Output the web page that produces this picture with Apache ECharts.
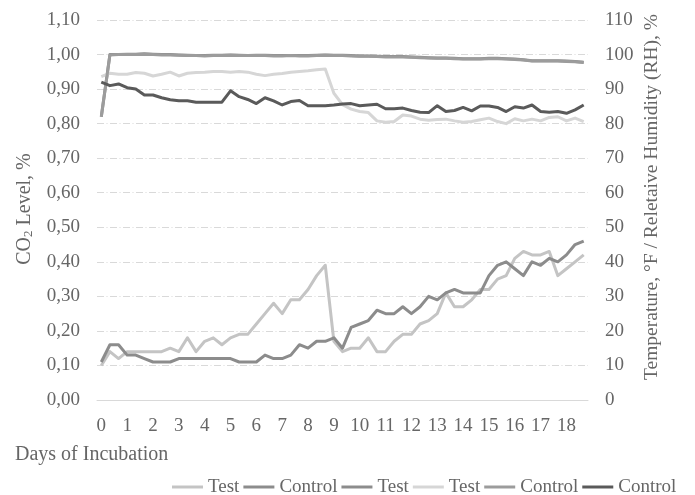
<!DOCTYPE html>
<html>
<head>
<meta charset="utf-8">
<script src="https://cdn.jsdelivr.net/npm/echarts@6/dist/echarts.min.js"></script>
<style>
html,body{margin:0;padding:0;background:#fff;}
#chart{width:695px;height:495px;}
</style>
</head>
<body>
<div id="chart"></div>
<script>
// Days of incubation (3 readings per day)
var days = ['0','1','2','3','4','5','6','7','8','9','10','11','12','13','14','15','16','17','18'];
var readingsPerDay = 3;

// CO2 level, % (left axis)
var co2Test = [0.10,0.14,0.12,0.14,0.14,0.14,0.14,0.14,0.15,0.14,0.18,0.14,0.17,0.18,0.16,0.18,0.19,0.19,0.22,0.25,0.28,0.25,0.29,0.29,0.32,0.36,0.39,0.17,
  0.14,0.15,0.15,0.18,0.14,0.14,0.17,0.19,0.19,0.22,0.23,0.25,0.31,0.27,0.27,0.29,0.32,0.32,0.35,0.36,0.41,0.43,0.42,0.42,0.43,0.36,0.38,0.40,0.42];
var co2Control = [0.11,0.16,0.16,0.13,0.13,0.12,0.11,0.11,0.11,0.12,0.12,0.12,0.12,0.12,0.12,0.12,0.11,0.11,0.11,0.13,0.12,0.12,0.13,0.16,0.15,0.17,0.17,0.18,
  0.15,0.21,0.22,0.23,0.26,0.25,0.25,0.27,0.25,0.27,0.30,0.29,0.31,0.32,0.31,0.31,0.31,0.36,0.39,0.40,0.38,0.36,0.40,0.39,0.41,0.40,0.42,0.45,0.46];

// Relative humidity, % (right axis)
var rhTest = [82,100.0,100.0,100.1,100.1,100.2,100.1,100.0,100.0,99.9,99.8,99.7,99.7,99.8,99.8,99.9,99.8,99.7,99.8,99.8,99.7,99.7,99.7,99.7,99.7,99.8,99.9,99.8,
  99.8,99.7,99.6,99.6,99.5,99.4,99.4,99.4,99.3,99.2,99.1,99.0,99.0,98.9,98.8,98.8,98.8,98.9,98.9,98.8,98.7,98.5,98.2,98.2,98.2,98.2,98.1,98.0,97.8];
var rhControl = [82,99.9,100.0,100.0,100.0,100.1,100.0,99.9,99.9,99.8,99.7,99.7,99.6,99.7,99.7,99.8,99.7,99.7,99.7,99.7,99.6,99.6,99.7,99.6,99.6,99.7,99.8,99.7,
  99.7,99.6,99.5,99.5,99.4,99.3,99.3,99.3,99.2,99.1,99.0,98.9,98.9,98.8,98.7,98.7,98.7,98.8,98.8,98.7,98.6,98.4,98.1,98.1,98.1,98.1,98.0,97.9,97.7];

// Temperature, °F (right axis)
var tempTest = [93.6,94.6,94.3,94.3,94.8,94.6,93.8,94.3,94.9,93.8,94.6,94.8,94.9,95.1,95.1,94.9,95.1,94.9,94.3,93.9,94.3,94.5,94.9,95.1,95.3,95.6,95.8,88.8,
  85.5,84.2,83.5,83.2,80.8,80.4,80.6,82.5,82.2,81.3,81.0,81.2,81.3,80.8,80.4,80.6,81.1,81.6,80.6,80.0,81.4,80.8,81.3,80.8,81.8,82.0,80.8,81.6,80.6];
var tempControl = [92.0,91.0,91.5,90.4,90.0,88.3,88.3,87.5,86.9,86.6,86.6,86.2,86.2,86.2,86.2,89.5,87.8,87.0,85.8,87.5,86.6,85.4,86.4,86.7,85.2,85.2,85.2,85.4,
  85.7,85.8,85.2,85.4,85.6,84.3,84.3,84.5,83.8,83.3,83.2,85.2,83.5,83.8,84.7,83.7,85.1,85.1,84.7,83.5,84.9,84.5,85.4,83.5,83.3,83.5,83.0,84.0,85.4];

var leftTicks = {min: 0, max: 1.1, interval: 0.1};
var rightTicks = {min: 0, max: 110, interval: 10};

// categories: one per reading, labelled with its day
var categories = [];
days.forEach(function (d) {
  for (var k = 0; k < readingsPerDay; k++) categories.push(d + '#' + k);
});

var FONT = '"Liberation Serif", "Times New Roman", serif';
var TXT = '#666666';

var chart = echarts.init(document.getElementById('chart'), null, {renderer: 'canvas'});

function mk(name, data, color, axis) {
  return {
    name: name, type: 'line', data: data, yAxisIndex: axis,
    symbol: 'none', smooth: false, color: color,
    lineStyle: {width: 3, color: color, join: 'round'},
    emphasis: {disabled: true}
  };
}

chart.setOption({
  animation: false,
  backgroundColor: '#ffffff',
  textStyle: {fontFamily: FONT},
  grid: {left: 97, right: 107, top: 20, bottom: 95, containLabel: false},
  legend: {
    left: 172, top: 477, padding: 0, itemGap: 4, itemWidth: 31, itemHeight: 3,
    icon: 'rect',
    textStyle: {fontFamily: FONT, fontSize: 19, color: TXT, lineHeight: 20},
    formatter: function (n) { return n.split(' ')[0]; },
    data: ['Test (CO2)', 'Control (CO2)', 'Test (RH)', 'Test (T)', 'Control (RH)', 'Control (T)']
  },
  xAxis: {
    type: 'category', data: categories, boundaryGap: true,
    axisLine: {show: true, lineStyle: {color: '#d9d9d9', width: 1}},
    axisTick: {show: false},
    axisLabel: {
      interval: readingsPerDay - 1, margin: 17,
      fontFamily: FONT, fontSize: 19, color: TXT,
      formatter: function (v) { return v.split('#')[0]; }
    },
    splitLine: {show: false}
  },
  yAxis: [{
    type: 'value', min: leftTicks.min, max: leftTicks.max, interval: leftTicks.interval,
    axisLine: {show: false}, axisTick: {show: false},
    axisLabel: {margin: 17, fontFamily: FONT, fontSize: 19, color: TXT,
      formatter: function (v) { return v.toFixed(2).replace('.', ','); }},
    splitLine: {show: true, lineStyle: {color: '#d9d9d9', width: 1, type: [7, 2.5, 1, 2.5]}}
  }, {
    type: 'value', min: rightTicks.min, max: rightTicks.max, interval: rightTicks.interval,
    position: 'right',
    axisLine: {show: false}, axisTick: {show: false},
    axisLabel: {margin: 17, fontFamily: FONT, fontSize: 19, color: TXT,
      formatter: function (v) { return String(Math.round(v)); }},
    splitLine: {show: false}
  }],
  series: [
    mk('Test (CO2)', co2Test, '#c4c4c4', 0),
    mk('Control (CO2)', co2Control, '#8c8c8c', 0),
    mk('Test (RH)', rhTest, '#8c8c8c', 1),
    mk('Test (T)', tempTest, '#d6d6d6', 1),
    mk('Control (RH)', rhControl, '#9c9c9c', 1),
    mk('Control (T)', tempControl, '#5a5a5a', 1)
  ],
  graphic: [{
    type: 'text', x: 25, y: 209, rotation: Math.PI / 2,
    style: {
      text: 'CO{sub|2} Level, %', fontFamily: FONT, fontSize: 20, fill: TXT,
      align: 'center', verticalAlign: 'middle',
      rich: {sub: {fontFamily: FONT, fontSize: 13, fill: TXT, padding: [8, 0, 0, 0]}}
    }
  }, {
    type: 'text', x: 652, y: 197, rotation: Math.PI / 2,
    style: {
      text: 'Temperature, °F / Reletaive Humidity (RH), %', fontFamily: FONT, fontSize: 19.5, fill: TXT,
      align: 'center', verticalAlign: 'middle'
    }
  }, {
    type: 'text', x: 15, y: 455,
    style: {
      text: 'Days of Incubation', fontFamily: FONT, fontSize: 20, fill: TXT,
      align: 'left', verticalAlign: 'middle'
    }
  }]
});
</script>
</body>
</html>
